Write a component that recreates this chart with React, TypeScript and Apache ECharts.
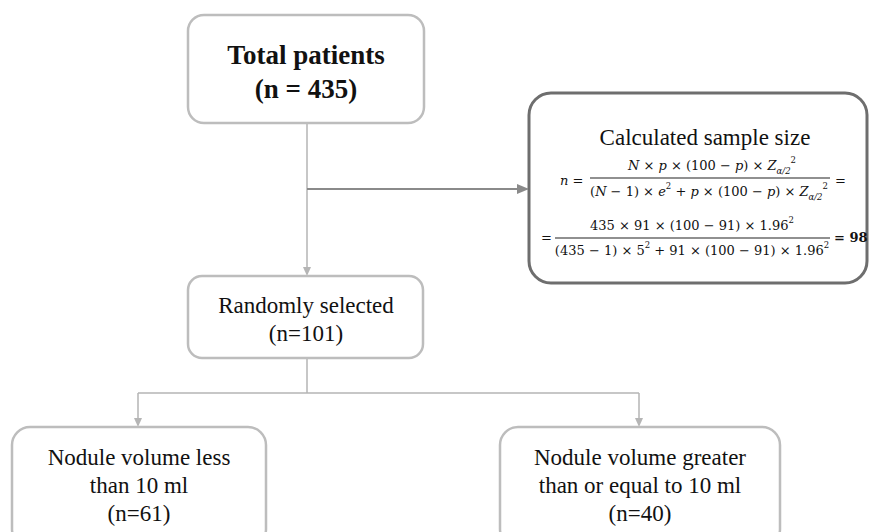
import React, { useEffect, useRef } from "react";
import * as echarts from "echarts";

// ---- data ----
const nodeTitles = ["Total patients", "Randomly selected", "Nodule volume less\nthan 10 ml", "Nodule volume greater\nthan or equal to 10 ml"];
const nodeCounts = [435, 101, 61, 40];
const formulaTitle = "Calculated sample size";
const populationN = 435;
const prevalenceP = 91;
const marginE = 5;
const zValue = 1.96;
const sampleResult = 98;

const SERIF = "'Liberation Serif', 'Times New Roman', serif";
const MATH = "'DejaVu Serif', serif";
const BOX_STROKE = "#bdbdbd";
const LINE = "#b5b5b5";

function box(x: number, y: number, w: number, h: number, r: number, stroke: string, lw: number) {
  return {
    type: "rect",
    shape: { x, y, width: w, height: h, r },
    style: { fill: "#fff", stroke, lineWidth: lw },
  };
}

function line(x1: number, y1: number, x2: number, y2: number, color = LINE, lw = 1.5) {
  return { type: "line", shape: { x1, y1, x2, y2 }, style: { stroke: color, lineWidth: lw } };
}

function arrowDown(x: number, y: number, color = LINE) {
  return { type: "polygon", shape: { points: [[x - 4, y - 9], [x + 4, y - 9], [x, y]] }, style: { fill: color } };
}
function arrowRight(x: number, y: number, color: string) {
  return { type: "polygon", shape: { points: [[x - 12, y - 5], [x - 12, y + 5], [x, y]] }, style: { fill: color } };
}

function text(t: string, x: number, y: number, size: number, opts: any = {}) {
  return {
    type: "text",
    style: {
      text: t,
      x,
      y,
      fontFamily: opts.family || SERIF,
      fontSize: size,
      fontWeight: opts.bold ? "bold" : "normal",
      fill: "#111",
      align: opts.align || "center",
      textAlign: opts.align || "center",
      verticalAlign: "middle",
      textVerticalAlign: "middle",
      lineHeight: opts.lineHeight || size * 1.3,
      rich: opts.rich,
    },
  };
}

const MF = 13;
const mathRich = {
  i: { fontFamily: MATH, fontStyle: "italic", fontSize: MF, lineHeight: 20, fill: "#111" },
  sub: { fontFamily: MATH, fontStyle: "italic", fontSize: 8.5, lineHeight: 11, verticalAlign: "bottom", fill: "#111" },
  sup: { fontFamily: MATH, fontSize: 8.5, lineHeight: 11, verticalAlign: "top", fill: "#111" },
  b: { fontFamily: MATH, fontWeight: "bold", fontSize: MF, lineHeight: 20, fill: "#111" },
};
function math(t: string, x: number, y: number, align = "center") {
  return text(t, x, y, MF, { rich: mathRich, lineHeight: 20, align, family: MATH });
}

export default function App() {
  const ref = useRef<HTMLDivElement>(null);
  useEffect(() => {
    if (!ref.current) return;
    const chart = echarts.init(ref.current, null, { renderer: "svg" });
    const elements: any[] = [
      // connectors
      line(307, 123, 307, 274),
      arrowDown(307, 276),
      line(307, 189, 518, 189, "#8a8a8a", 2),
      arrowRight(529, 189, "#8a8a8a"),
      line(307, 358, 307, 393),
      line(138, 393, 639, 393),
      line(138, 393, 138, 425),
      arrowDown(138, 427),
      line(639, 393, 639, 425),
      arrowDown(639, 427),
      // boxes
      box(188, 15, 236, 108, 16, BOX_STROKE, 2.5),
      box(188, 276, 235, 82, 14, BOX_STROKE, 2.5),
      box(12, 427, 254, 120, 18, BOX_STROKE, 2.5),
      box(500, 427, 280, 120, 18, BOX_STROKE, 2.5),
      box(529, 93, 338, 190, 22, "#6e6e6e", 3),
      // node texts
      text(`${nodeTitles[0]}\n(n = ${nodeCounts[0]})`, 306, 72, 27, { bold: true, lineHeight: 34 }),
      text(`${nodeTitles[1]}\n(n=${nodeCounts[1]})`, 306, 319, 23, { lineHeight: 28 }),
      text(`${nodeTitles[2]}\n(n=${nodeCounts[2]})`, 139, 485, 23, { lineHeight: 28 }),
      text(`${nodeTitles[3]}\n(n=${nodeCounts[3]})`, 640, 485, 23, { lineHeight: 28 }),
      // formula
      text(formulaTitle, 705, 137, 23),
      math("{i|n} =", 560, 180, "left"),
      math("{i|N} × {i|p} × (100 − {i|p}) × {i|Z}{sub|α/2}{sup|2}", 712, 165),
      line(590, 178, 830, 178, "#222", 1.2),
      math("({i|N} − 1) × {i|e}{sup|2} + {i|p} × (100 − {i|p}) × {i|Z}{sub|α/2}{sup|2}", 709, 191),
      math("=", 835, 180, "left"),
      math("=", 541, 237, "left"),
      math(`${populationN} × ${prevalenceP} × (100 − ${prevalenceP}) × ${zValue}{sup|2}`, 692, 225),
      line(555, 238, 830, 238, "#222", 1.2),
      math(`(${populationN} − 1) × ${marginE}{sup|2} + ${prevalenceP} × (100 − ${prevalenceP}) × ${zValue}{sup|2}`, 692, 250),
      math(`{b|= ${sampleResult}}`, 834, 237, "left"),
    ];
    chart.setOption({
      animation: false,
      backgroundColor: "#fff",
      graphic: { elements },
    });
    return () => chart.dispose();
  }, []);
  return <div ref={ref} style={{ position: "fixed", left: 0, top: 0, width: 869, height: 532 }} />;
}
